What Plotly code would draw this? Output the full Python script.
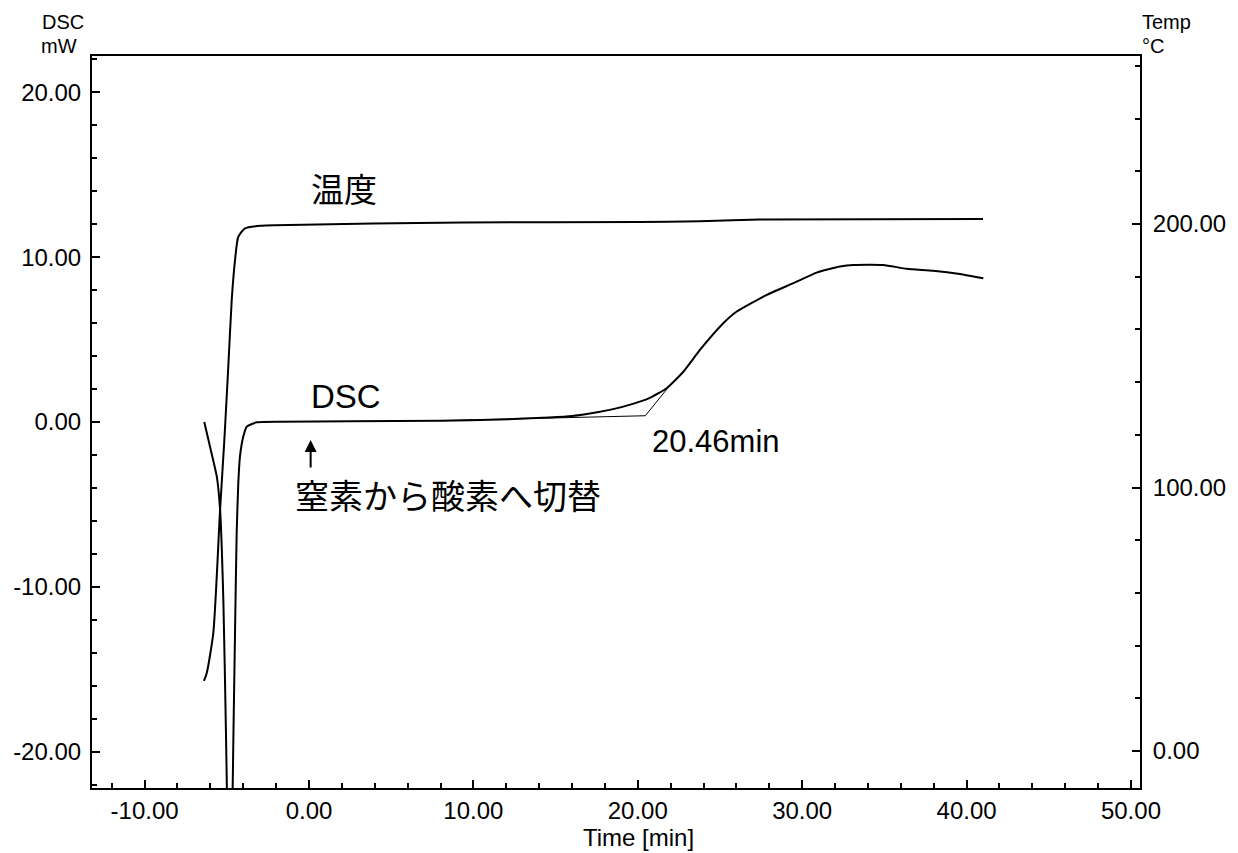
import plotly.graph_objects as go

# DSC signal (mW) against time (min)
dsc_time = [-6.37, -6.02, -5.61, -5.41, -5.21, -5.05, -4.97, -4.82, -4.67, -4.50,
            -4.40, -4.30, -4.20, -4.00, -3.79, -3.18, -1.76, 2.5, 8.0, 11.6,
            14.6, 16.0, 17.7, 18.5, 19.7, 20.7, 21.76, 22.77, 23.78, 25.2,
            26.02, 27.84, 29.46, 30.88, 32.3, 33.11, 34.93, 36.36, 37.97, 39.6,
            41.02]
dsc_value = [0.0, -1.5, -3.3, -5.3, -10.8, -18.9, -24.0, -45.0, -24.0, -12.8,
             -6.75, -3.7, -2.1, -0.9, -0.29, -0.02, 0.02, 0.04, 0.08, 0.15,
             0.27, 0.36, 0.62, 0.78, 1.1, 1.45, 2.05, 3.05, 4.37, 5.99,
             6.7, 7.71, 8.42, 9.06, 9.43, 9.53, 9.53, 9.29, 9.18, 8.98,
             8.72]

# Sample temperature (°C) against time (min)
temp_time = [-6.39, -6.22, -5.82, -5.41, -5.15, -4.91, -4.70, -4.50, -4.30, -3.89,
             -2.88, -2.07, 9.37, 20.13, 23.78, 27.43, 41.0]
temp_value = [26.6, 29.6, 44.8, 91.5, 118.0, 145.8, 171.2, 186.3, 195.2, 198.4,
              199.4, 199.6, 200.6, 200.8, 201.1, 201.7, 201.9]

# Onset construction: baseline and inflection tangent meeting at the onset
onset_time = 20.46
baseline_time = [8.0, onset_time]
baseline_value = [0.08, 0.38]
tangent_time = [onset_time, 21.8]
tangent_value = [0.38, 2.03]

# Axis ticks
x_ticks = [-10, 0, 10, 20, 30, 40, 50]
x_ticktext = ["-10.00", "0.00", "10.00", "20.00", "30.00", "40.00", "50.00"]
dsc_ticks = [-20, -10, 0, 10, 20]
dsc_ticktext = ["-20.00", "-10.00", "0.00", "10.00", "20.00"]
temp_ticks = [0, 100, 200]
temp_ticktext = ["0.00", "100.00", "200.00"]

FONT = "Liberation Sans, Arial, Noto Sans CJK JP, sans-serif"
BLACK = "#000000"

fig = go.Figure()
fig.add_trace(go.Scatter(x=dsc_time, y=dsc_value, mode="lines",
                         line=dict(color=BLACK, width=2, shape="spline", smoothing=0.5),
                         yaxis="y", showlegend=False, hoverinfo="skip"))
fig.add_trace(go.Scatter(x=temp_time, y=temp_value, mode="lines",
                         line=dict(color=BLACK, width=2, shape="spline", smoothing=0.6),
                         yaxis="y2", showlegend=False, hoverinfo="skip"))
fig.add_trace(go.Scatter(x=baseline_time, y=baseline_value, mode="lines",
                         line=dict(color=BLACK, width=1), yaxis="y",
                         showlegend=False, hoverinfo="skip"))
fig.add_trace(go.Scatter(x=tangent_time, y=tangent_value, mode="lines",
                         line=dict(color=BLACK, width=1), yaxis="y",
                         showlegend=False, hoverinfo="skip"))

tickfont = dict(family=FONT, size=24, color=BLACK)
minor_common = dict(ticks="inside", ticklen=5, tickwidth=1.5, tickcolor=BLACK)

fig.update_layout(
    width=1238, height=853, autosize=False,
    margin=dict(l=92, r=98, t=56, b=65),
    paper_bgcolor="white", plot_bgcolor="white",
    font=dict(family=FONT, color=BLACK),
    xaxis=dict(range=[-13.2, 50.55], tickmode="array", tickvals=x_ticks,
               ticktext=x_ticktext, ticks="inside", ticklen=8, tickwidth=1.5,
               tickcolor=BLACK, minor=dict(tick0=0, dtick=2, **minor_common),
               showline=True, linecolor=BLACK, linewidth=2, mirror=True,
               showgrid=False, zeroline=False, tickfont=tickfont),
    yaxis=dict(range=[-22.2, 22.2], tickmode="array", tickvals=dsc_ticks,
               ticktext=dsc_ticktext, ticks="inside", ticklen=8, tickwidth=1.5,
               tickcolor=BLACK, minor=dict(tick0=0, dtick=2, **minor_common),
               showline=True, linecolor=BLACK, linewidth=2,
               showgrid=False, zeroline=False, tickfont=tickfont,
               ticklabelstandoff=4),
    yaxis2=dict(range=[-14.04, 263.8], overlaying="y", side="right",
                tickmode="array", tickvals=temp_ticks, ticktext=temp_ticktext,
                ticks="inside", ticklen=8, tickwidth=1.5, tickcolor=BLACK,
                minor=dict(tick0=0, dtick=20, **minor_common),
                showline=True, linecolor=BLACK, linewidth=2,
                showgrid=False, zeroline=False, tickfont=tickfont,
                ticklabelstandoff=6),
)

fig.add_annotation(x=0.0, y=14.07, xref="x", yref="y", text="温度", showarrow=False,
                   xanchor="left", yanchor="middle", font=dict(family=FONT, size=33, color=BLACK))
fig.add_annotation(x=0.0, y=1.55, xref="x", yref="y", text="DSC", showarrow=False,
                   xanchor="left", yanchor="middle", font=dict(family=FONT, size=33, color=BLACK))
fig.add_annotation(x=20.75, y=-1.2, xref="x", yref="y", text="20.46min", showarrow=False,
                   xanchor="left", yanchor="middle", font=dict(family=FONT, size=31, color=BLACK))
fig.add_annotation(x=-0.95, y=-4.53, xref="x", yref="y", text="窒素から酸素へ切替",
                   showarrow=False, xanchor="left", yanchor="middle",
                   font=dict(family=FONT, size=34, color=BLACK))
# Arrow marking the gas switch
fig.add_annotation(x=0.1, y=-1.09, xref="x", yref="y", ax=0.1, ay=-2.85,
                   axref="x", ayref="y", text="", showarrow=True,
                   arrowhead=2, arrowsize=1.2, arrowwidth=2, arrowcolor=BLACK)

# Axis titles (stacked name / unit pairs above each y axis)
axis_font = dict(family=FONT, size=20, color=BLACK)
fig.add_annotation(x=-0.0281, y=1.0460, xref="paper", yref="paper", text="DSC",
                   showarrow=False, xanchor="center", yanchor="middle",
                   font=axis_font, borderpad=0)
fig.add_annotation(x=-0.0313, y=1.0140, xref="paper", yref="paper", text="mW",
                   showarrow=False, xanchor="center", yanchor="middle",
                   font=axis_font, borderpad=0)
fig.add_annotation(x=1.0251, y=1.0460, xref="paper", yref="paper", text="Temp",
                   showarrow=False, xanchor="center", yanchor="middle",
                   font=axis_font, borderpad=0)
fig.add_annotation(x=1.0124, y=1.0140, xref="paper", yref="paper", text="°C",
                   showarrow=False, xanchor="center", yanchor="middle",
                   font=axis_font, borderpad=0)
fig.add_annotation(x=0.5215, y=-0.0683, xref="paper", yref="paper", text="Time [min]",
                   showarrow=False, xanchor="center", yanchor="middle",
                   font=dict(family=FONT, size=24, color=BLACK), borderpad=0)

fig.write_html("out.html")
